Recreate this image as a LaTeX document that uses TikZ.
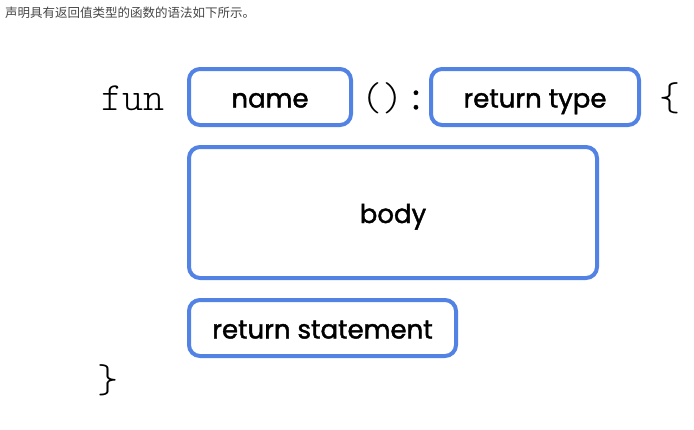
\documentclass[tikz,border=0pt]{standalone}
\usepackage{fontspec}
\setmainfont{Poppins}
\newfontfamily\partfont{Poppins}[FakeBold=1.6]
\newfontfamily\codefont{lmmonolt10-regular.otf}
\newfontfamily\cjkfont{Noto Sans CJK SC}
\usepackage{xcolor}
\usetikzlibrary{positioning}
\definecolor{boxblue}{RGB}{82,130,228}
\definecolor{titlegray}{RGB}{70,70,70}

\begin{document}
\begin{tikzpicture}[
		x=1pt, y=-1pt,
		part/.style={rectangle, draw=boxblue, line width=4pt, rounded corners=11pt, fill=white, inner sep=0pt, text height=23pt, text depth=2pt, font=\fontsize{26}{28}\partfont},
		code/.style={font=\fontsize{40}{42}\codefont, inner sep=0pt},
		title/.style={font=\fontsize{12.5}{14}\cjkfont, text=titlegray, anchor=west, inner sep=0pt}
		]
		\useasboundingbox (0,0) rectangle (694,429);
		
		% Caption
		\node[title] (caption) at (5,13) {声明具有返回值类型的函数的语法如下所示。};
		
		% Signature line
		\node[code] (fun) at (133,98) {fun};
		\node[part, minimum width=162pt, minimum height=56pt] (name) at (270,97) {name};
		\node[code] (parens) at (382,98) {()};
		\node[font=\fontsize{34}{36}\partfont, inner sep=0pt] (colon) at (416,100) {:};
		\node[part, minimum width=208pt, minimum height=56pt] (rettype) at (535,97) {return type};
		\node[code] (open) at (670,98) {\{};
		
		% Body and return
		\node[part, minimum width=408pt, minimum height=131pt] (body) at (393,212.5) {body};
		\node[part, minimum width=267pt, minimum height=56pt] (retstmt) at (322.5,328) {return statement};
		\node[code] (close) at (108,380) {\}};
		
	\end{tikzpicture}
\end{document}
